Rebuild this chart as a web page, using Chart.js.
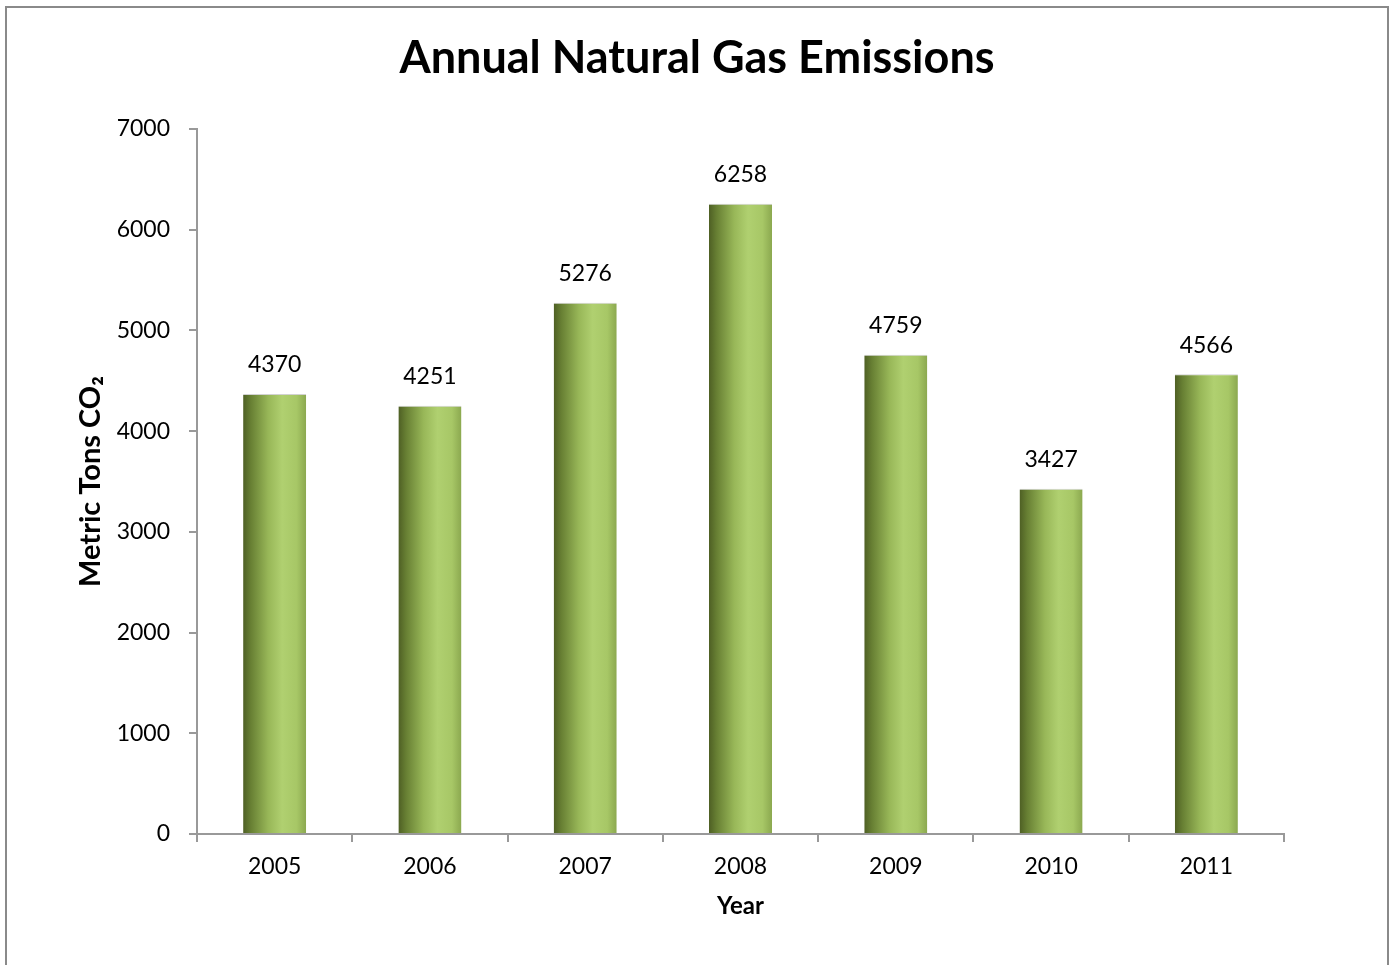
<!DOCTYPE html>
<html>
<head>
<meta charset="utf-8">
<script src="https://cdn.jsdelivr.net/npm/chart.js@4.4.1/dist/chart.umd.min.js"></script>
<style>
  html, body { margin: 0; padding: 0; background: #fff; }
  #wrap { position: relative; width: 1394px; height: 965px; overflow: hidden; }
  #frame { position: absolute; left: 5px; top: 6px; width: 1380px; height: 1000px;
           border-left: 2px solid #8a8a8a; border-top: 2px solid #8a8a8a; border-right: 2px solid #8a8a8a;
           pointer-events: none; }
  canvas { position: absolute; left: 0; top: 0; }
</style>
</head>
<body>
<div id="wrap">
  <canvas id="c" width="1394" height="965"></canvas>
  <div id="frame"></div>
</div>
<script>
const years = ['2005', '2006', '2007', '2008', '2009', '2010', '2011'];
const emissions = [4370, 4251, 5276, 6258, 4759, 3427, 4566];
const yTicks = [0, 1000, 2000, 3000, 4000, 5000, 6000, 7000];
const chartTitle = 'Annual Natural Gas Emissions';
const xTitle = 'Year';
const yTitle = 'Metric Tons CO\u2082';

const FONT = 'Lato, "Open Sans", "Liberation Sans", sans-serif';
const BAR_PCT = 0.406;

function barGradient(ctx) {
  const chart = ctx.chart;
  const xs = chart.scales && chart.scales.x;
  if (!xs || !chart.chartArea) return '#9ebd5c';
  const cx = xs.getPixelForValue(ctx.dataIndex);
  const w = (xs.width / years.length) * BAR_PCT;
  const g = chart.ctx.createLinearGradient(cx - w / 2, 0, cx + w / 2, 0);
  g.addColorStop(0, '#4e5f24');
  g.addColorStop(0.12, '#677f33');
  g.addColorStop(0.4, '#98b758');
  g.addColorStop(0.62, '#b0d070');
  g.addColorStop(0.85, '#a7c766');
  g.addColorStop(1, '#8ba84f');
  return g;
}

const valueLabels = {
  id: 'valueLabels',
  afterDatasetsDraw(chart) {
    const c = chart.ctx;
    const meta = chart.getDatasetMeta(0);
    c.save();
    c.font = '23px ' + FONT;
    c.fillStyle = '#000';
    c.textAlign = 'center';
    c.textBaseline = 'middle';
    meta.data.forEach((bar, i) => {
      c.fillText(String(emissions[i]), bar.x, bar.y - 29);
    });
    c.restore();
  }
};

new Chart(document.getElementById('c'), {
  type: 'bar',
  data: {
    labels: years,
    datasets: [{
      data: emissions,
      backgroundColor: barGradient,
      borderColor: '#d2d2d2',
      borderWidth: { top: 1, left: 0, right: 0, bottom: 0 },
      borderSkipped: 'bottom',
      categoryPercentage: 1.0,
      barPercentage: BAR_PCT,
      yAxisID: 'y'
    }]
  },
  options: {
    responsive: false,
    animation: false,
    layout: { padding: { top: 0, left: 0, right: 0, bottom: 44 } },
    plugins: {
      legend: { display: false },
      tooltip: { enabled: false },
      title: {
        display: true,
        text: chartTitle,
        color: '#000',
        font: { family: FONT, size: 45, weight: 'bold', lineHeight: 1.2 },
        padding: { top: 31, bottom: 44 }
      }
    },
    scales: {
      x: {
        grid: { display: true, drawOnChartArea: false, drawTicks: true, tickLength: 8, color: '#999', lineWidth: 2, offset: true },
        border: { display: true, color: '#999', width: 2 },
        ticks: { color: '#000', font: { family: FONT, size: 23 }, padding: 11, maxRotation: 0 },
        title: { display: true, text: xTitle, color: '#000', font: { family: FONT, size: 24, weight: 'bold', lineHeight: 1.2 }, padding: { top: 0, bottom: 0 } },
        afterFit(scale) { scale.height = 87; }
      },
      y: {
        position: 'left',
        min: 0,
        max: 7000,
        afterBuildTicks(scale) { scale.ticks = yTicks.map(v => ({ value: v })); },
        grid: { display: true, drawOnChartArea: false, drawTicks: true, tickLength: 8, color: '#999', lineWidth: 2 },
        border: { display: true, color: '#999', width: 2 },
        ticks: { color: '#000', font: { family: FONT, size: 23 }, padding: 19, callback: v => String(v) },
        title: { display: true, text: yTitle, color: '#000', font: { family: FONT, size: 29, weight: 'bold', lineHeight: 1.2 }, padding: { top: 73.6, bottom: 0 } },
        afterFit(scale) { scale.width = 197; }
      },
      ySpacer: {
        type: 'linear',
        position: 'right',
        display: true,
        min: 0,
        max: 7000,
        grid: { display: false, drawTicks: false },
        border: { display: false },
        ticks: { display: false },
        afterFit(scale) { scale.width = 110; }
      }
    }
  },
  plugins: [valueLabels]
});
</script>
</body>
</html>
